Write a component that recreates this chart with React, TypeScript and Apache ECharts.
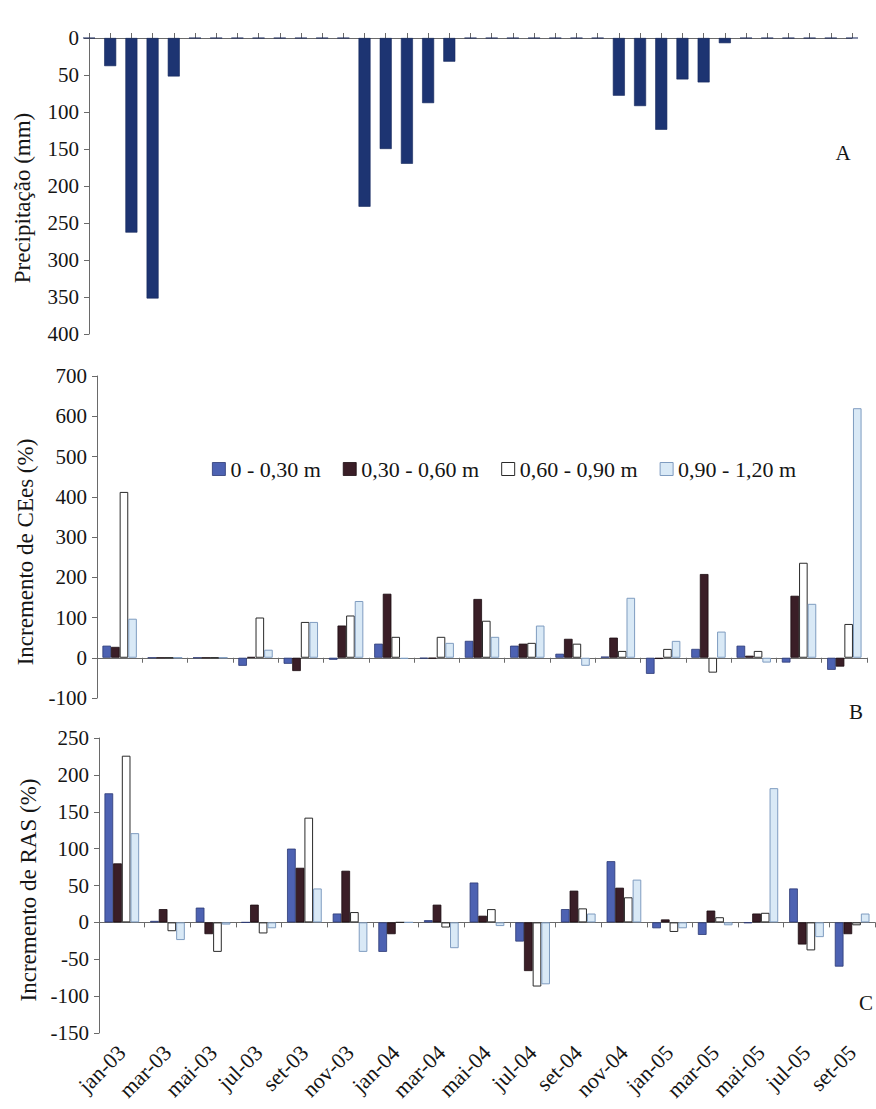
import React, { useEffect, useRef } from 'react';
import * as echarts from 'echarts';

// Panel A: monthly precipitation (index 0 = dez-02 ... dez-05)
const precipMonths = [
  'dez-02',
  'jan-03', 'fev-03', 'mar-03', 'abr-03', 'mai-03', 'jun-03', 'jul-03', 'ago-03', 'set-03', 'out-03', 'nov-03', 'dez-03',
  'jan-04', 'fev-04', 'mar-04', 'abr-04', 'mai-04', 'jun-04', 'jul-04', 'ago-04', 'set-04', 'out-04', 'nov-04', 'dez-04',
  'jan-05', 'fev-05', 'mar-05', 'abr-05', 'mai-05', 'jun-05', 'jul-05', 'ago-05', 'set-05', 'out-05', 'nov-05', 'dez-05',
];
const precipitation = [
  0,
  38, 263, 352, 52, 0, 0, 0, 0, 0, 0, 0, 0,
  228, 150, 170, 88, 32, 0, 0, 0, 0, 0, 0, 0,
  78, 92, 124, 56, 60, 7, 0, 0, 0, 0, 0, 0,
];

// Panels B and C: sampling dates
const sampleDates = [
  'jan-03', 'mar-03', 'mai-03', 'jul-03', 'set-03', 'nov-03',
  'jan-04', 'mar-04', 'mai-04', 'jul-04', 'set-04', 'nov-04',
  'jan-05', 'mar-05', 'mai-05', 'jul-05', 'set-05',
];
const layerNames = ['0 - 0,30 m', '0,30 - 0,60 m', '0,60 - 0,90 m', '0,90 - 1,20 m'];

// Panel B: Incremento de CEes (%)
const ceesL1 = [30, 0, 0, -20, -15, -5, 35, -2, 42, 30, 10, 3, -40, 22, 30, -12, -30];
const ceesL2 = [27, 0, 0, 2, -33, 80, 159, -2, 146, 35, 47, 50, -3, 208, 5, 154, -22];
const ceesL3 = [412, 0, 0, 100, 89, 105, 52, 52, 92, 37, 35, 17, 22, -37, 17, 236, 84];
const ceesL4 = [97, 0, 0, 20, 89, 141, -3, 37, 52, 80, -20, 149, 42, 65, -12, 134, 620];

// Panel C: Incremento de RAS (%)
const rasL1 = [175, 2, 20, 0, 100, 12, -40, 3, 54, -26, 18, 83, -8, -17, -1, 46, -60];
const rasL2 = [80, 18, -16, 24, 74, 70, -16, 24, 9, -66, 43, 47, 4, 16, 12, -30, -16];
const rasL3 = [226, -12, -40, -15, 142, 14, 0, -7, 18, -87, 19, 34, -13, 7, 13, -38, -4];
const rasL4 = [121, -24, -3, -8, 46, -40, 0, -35, -5, -84, 12, 58, -8, -4, 182, -20, 12];

const FONT = 'Liberation Serif, Times New Roman, serif';
const TXT = '#151515';
const AXIS = '#6a6a6a';

const layerStyles = [
  { color: '#4d62b2', borderColor: '#2b3975', borderWidth: 0.8 },
  { color: '#3a1e27', borderColor: '#1a0b10', borderWidth: 0.8 },
  { color: '#ffffff', borderColor: '#2a2a2a', borderWidth: 1 },
  { color: '#d9e9f6', borderColor: '#7f9cc0', borderWidth: 1 },
];

export default function App() {
  const ref = useRef<HTMLDivElement>(null);

  useEffect(() => {
    if (!ref.current) return;
    const chart = echarts.init(ref.current, null, { renderer: 'svg' });

    const yLabel = { fontFamily: FONT, fontSize: 21, color: TXT, margin: 10 };
    const axisLine = { show: true, lineStyle: { color: AXIS, width: 1 } };
    const tick = { show: true, length: 5, lineStyle: { color: AXIS } };

    const ceesData = [ceesL1, ceesL2, ceesL3, ceesL4];
    const rasData = [rasL1, rasL2, rasL3, rasL4];

    const layerSeries = (data: number[][], axisIdx: number) =>
      data.map((d, i) => ({
        type: 'bar',
        name: layerNames[i],
        xAxisIndex: axisIdx,
        yAxisIndex: axisIdx,
        data: d,
        barGap: '0%',
        barCategoryGap: '24%',
        itemStyle: layerStyles[i],
      }));

    chart.setOption({
      animation: false,
      backgroundColor: '#ffffff',
      textStyle: { fontFamily: FONT },
      grid: [
        { left: 89, top: 38, width: 763, height: 296, containLabel: false },
        { left: 97, top: 376, width: 770, height: 322, containLabel: false },
        { left: 99, top: 738, width: 776, height: 295, containLabel: false },
      ],
      legend: {
        top: 453,
        left: 207,
        icon: 'rect',
        itemWidth: 13,
        itemHeight: 13,
        itemGap: 22,
        textStyle: { fontFamily: FONT, fontSize: 22, color: TXT },
        data: layerNames.map((n, i) => ({ name: n, itemStyle: layerStyles[i] })),
      },
      xAxis: [
        {
          gridIndex: 0,
          type: 'category',
          data: precipMonths,
          position: 'top',
          boundaryGap: false,
          axisLine,
          axisTick: { ...tick, interval: 0 },
          axisLabel: { show: false },
          splitLine: { show: false },
        },
        {
          gridIndex: 1,
          type: 'category',
          data: sampleDates,
          position: 'bottom',
          axisLine: { ...axisLine, onZero: true },
          axisTick: { ...tick, interval: 0 },
          axisLabel: { show: false },
          splitLine: { show: false },
        },
        {
          gridIndex: 2,
          type: 'category',
          data: sampleDates,
          position: 'bottom',
          axisLine: { ...axisLine, onZero: true },
          axisTick: { ...tick, interval: 0 },
          axisLabel: { show: false },
          splitLine: { show: false },
        },
        {
          gridIndex: 2,
          type: 'category',
          data: sampleDates,
          position: 'bottom',
          axisLine: { show: false, onZero: false },
          axisTick: { show: false },
          axisLabel: {
            interval: 0,
            rotate: 45,
            margin: 16,
            fontFamily: FONT,
            fontSize: 22,
            color: TXT,
          },
          splitLine: { show: false },
        },
      ],
      yAxis: [
        {
          gridIndex: 0,
          type: 'value',
          inverse: true,
          min: 0,
          max: 400,
          interval: 50,
          axisLine,
          axisTick: tick,
          axisLabel: yLabel,
          splitLine: { show: false },
        },
        {
          gridIndex: 1,
          type: 'value',
          min: -100,
          max: 700,
          interval: 100,
          axisLine,
          axisTick: tick,
          axisLabel: yLabel,
          splitLine: { show: false },
        },
        {
          gridIndex: 2,
          type: 'value',
          min: -150,
          max: 250,
          interval: 50,
          axisLine,
          axisTick: tick,
          axisLabel: yLabel,
          splitLine: { show: false },
        },
      ],
      series: [
        {
          type: 'bar',
          name: 'Precipitação',
          xAxisIndex: 0,
          yAxisIndex: 0,
          data: precipitation,
          barWidth: 12,
          itemStyle: { color: '#1d3472', borderColor: '#14275a', borderWidth: 0.6 },
        },
        ...layerSeries(ceesData, 1),
        ...layerSeries(rasData, 2),
      ],
      graphic: [
        {
          type: 'text',
          x: 22,
          y: 198,
          rotation: Math.PI / 2,
          style: { text: 'Precipitação (mm)', fontFamily: FONT, fontSize: 23, fill: TXT, align: 'center', verticalAlign: 'middle' },
        },
        {
          type: 'text',
          x: 25,
          y: 552,
          rotation: Math.PI / 2,
          style: { text: 'Incremento de CEes (%)', fontFamily: FONT, fontSize: 23, fill: TXT, align: 'center', verticalAlign: 'middle' },
        },
        {
          type: 'text',
          x: 28,
          y: 890,
          rotation: Math.PI / 2,
          style: { text: 'Incremento de RAS (%)', fontFamily: FONT, fontSize: 23, fill: TXT, align: 'center', verticalAlign: 'middle' },
        },
        {
          type: 'text',
          x: 843,
          y: 153,
          style: { text: 'A', fontFamily: FONT, fontSize: 21, fill: TXT, align: 'center', verticalAlign: 'middle' },
        },
        {
          type: 'text',
          x: 856,
          y: 712,
          style: { text: 'B', fontFamily: FONT, fontSize: 21, fill: TXT, align: 'center', verticalAlign: 'middle' },
        },
        {
          type: 'text',
          x: 866,
          y: 1003,
          style: { text: 'C', fontFamily: FONT, fontSize: 21, fill: TXT, align: 'center', verticalAlign: 'middle' },
        },
      ],
    });

    return () => chart.dispose();
  }, []);

  return (
    <div
      ref={ref}
      style={{ position: 'absolute', left: 0, top: 0, width: 876, height: 1109, background: '#fff' }}
    />
  );
}
